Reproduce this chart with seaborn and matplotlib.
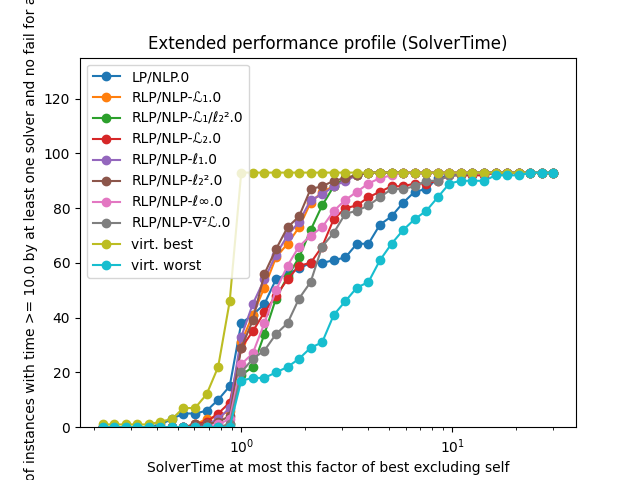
import numpy as np
import pandas as pd
import seaborn as sns
import matplotlib
matplotlib.use("Agg")
import matplotlib.pyplot as plt

# factor grid (ratio to best excluding self), one point every 2^(2/11)
factors = [0.2205, 0.2501, 0.2837, 0.3218, 0.3650, 0.4140, 0.4696, 0.5327,
           0.6042, 0.6853, 0.7774, 0.8818, 1.0, 1.134, 1.287, 1.460,
           1.656, 1.878, 2.130, 2.416, 2.741, 3.109, 3.527, 4.000,
           4.537, 5.147, 5.838, 6.622, 7.512, 8.521, 9.665, 10.96,
           12.43, 14.11, 16.00, 18.15, 20.59, 23.35, 26.49, 30.06]

lp_nlp = [0, 0, 0, 0, 0, 1, 3, 5, 5, 6, 10, 15,
          38, 41, 45, 54, 56, 58, 60, 60, 61, 62, 67, 67, 74, 77, 82, 86, 87, 91, 92] + [93] * 9
rlp_L1 = [0] * 8 + [1, 3, 4, 6] + [31, 41, 51, 62, 67, 73, 82, 86, 88, 91, 92] + [93] * 17
rlp_L1_l2sq = [0] * 11 + [1] + [19, 22, 34, 47, 55, 62, 72, 81, 88, 91, 92] + [93] * 17
rlp_L2 = [0] * 8 + [1, 2, 5, 9] + [29, 35, 42, 48, 54, 59, 60, 66, 76, 80, 81, 84, 86, 88, 88,
                                   89, 89, 90, 92, 92, 92, 92] + [93] * 6
rlp_l1 = [0] * 9 + [1, 3, 7] + [33, 45, 54, 63, 70, 75, 83, 85, 88, 90, 92] + [93] * 17
rlp_l2sq = [0] * 8 + [1, 1, 2, 4] + [29, 39, 56, 65, 73, 77, 87, 88, 90, 91, 92] + [93] * 17
rlp_linf = [0] * 10 + [1, 3] + [23, 27, 38, 50, 59, 66, 70, 73, 79, 83, 86, 89, 91, 92] + [93] * 14
rlp_hess = [0] * 11 + [1] + [20, 25, 28, 34, 38, 47, 53, 66, 71, 78, 79, 81, 84, 87, 87,
                             88, 90, 90, 92, 92] + [93] * 8
virt_best = [1, 1, 1, 1, 1, 2, 3, 7, 7, 12, 22, 46] + [93] * 28
virt_worst = [0] * 12 + [17, 18, 18, 20, 22, 25, 29, 31, 41, 46, 51, 53, 61, 67, 72, 76,
                         79, 84, 89, 90, 90, 90, 92, 92, 92, 93, 93, 93]

solvers = ["LP/NLP.0", "RLP/NLP-ℒ₁.0", "RLP/NLP-ℒ₁/ℓ₂².0", "RLP/NLP-ℒ₂.0",
           "RLP/NLP-ℓ₁.0", "RLP/NLP-ℓ₂².0", "RLP/NLP-ℓ∞.0", "RLP/NLP-∇²ℒ.0",
           "virt. best", "virt. worst"]
series = [lp_nlp, rlp_L1, rlp_L1_l2sq, rlp_L2, rlp_l1, rlp_l2sq, rlp_linf, rlp_hess,
          virt_best, virt_worst]

rows = []
for name, vals in zip(solvers, series):
    for f, v in zip(factors, vals):
        rows.append({"factor": f, "count": v, "solver": name})
df = pd.DataFrame(rows)

fig, ax = plt.subplots(figsize=(6.4, 4.8), dpi=100)
sns.lineplot(data=df, x="factor", y="count", hue="solver", hue_order=solvers,
             palette="tab10", marker="o", markeredgecolor=None, markeredgewidth=1.0,
             markersize=6, linewidth=1.5, ax=ax)
ax.set_xscale("log")
ax.set_ylim(0, 135)
ax.set_title("Extended performance profile (SolverTime)")
ax.set_xlabel("SolverTime at most this factor of best excluding self")
ax.set_ylabel("# of instances with time >= 10.0 by at least one solver and no fail for all")
sns.move_legend(ax, "upper left", title=None)

fig.savefig("out.png", dpi=100)
